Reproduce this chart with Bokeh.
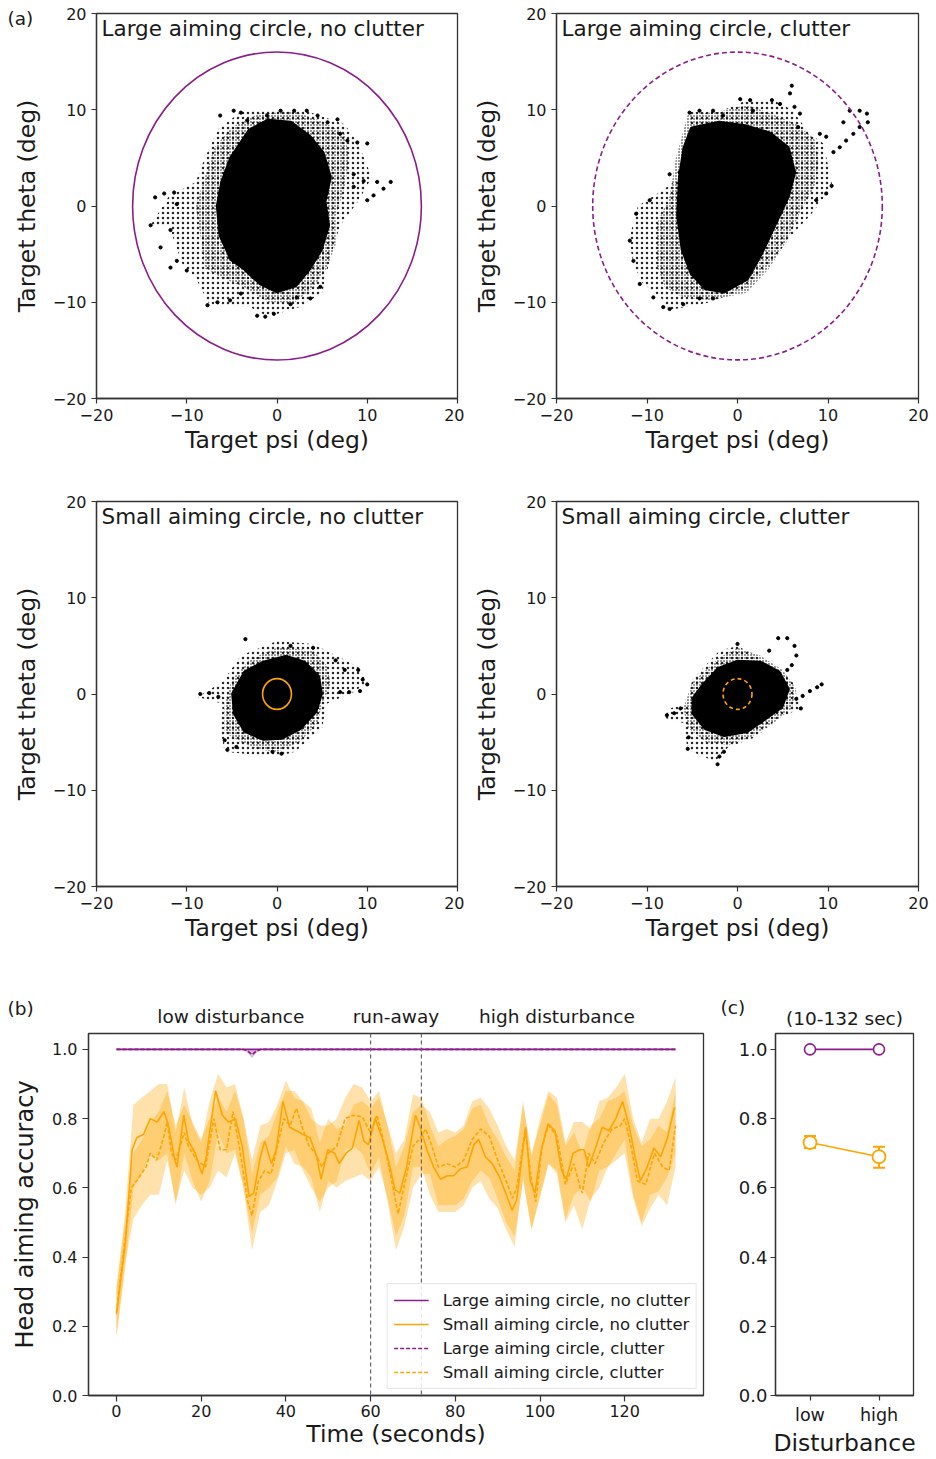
from bokeh.plotting import figure
from bokeh.layouts import column, row
from bokeh.models import (Label, Span, Legend, LegendItem, FixedTicker, PrintfTickFormatter,
                          Whisker, ColumnDataSource, TeeHead, Title, LinearAxis)
from bokeh.embed import file_html
from bokeh.resources import INLINE

# ---------------- data: panel (a) ----------------
# each cloud: solid core outline, dense-speckle outline, sparse halo outline, and trail points (psi, theta)
a1_core = [(-3, 7.8), (-1, 8.8), (1.5, 8.6), (3.5, 7.2), (5, 5.5), (5.8, 3), (5.2, 0.5), (5.6, -2), (4.8, -4.5),
           (3.5, -6.5), (2, -8.2), (0, -8.8), (-1.8, -8), (-3.5, -6.5), (-5, -5.5), (-6.2, -3), (-6.5, 0),
           (-6, 2.5), (-5, 5)]
a1_mid = [(-5, 8.2), (-2, 9.6), (2, 9.8), (5, 8.8), (7.5, 7.5), (8, 5), (7.5, 2), (6.5, -1), (6.5, -4),
          (5.5, -6.5), (4, -8.5), (2, -10), (-1, -10), (-3.5, -8.5), (-6, -7.5), (-8, -6.5), (-8.5, -3),
          (-9, 0), (-8, 3), (-7, 6)]
a1_halo = [(-4, 9.8), (0, 10), (3.5, 9.8), (7.5, 8.5), (9, 6.5), (10.5, 3), (9, 0.5), (7, -2), (6, -5),
           (5, -9), (2.5, -10.5), (-1, -11.5), (-3, -10.5), (-7.5, -10.2), (-9, -7.5), (-10.5, -6),
           (-12, -2), (-14, -2), (-12, 1), (-9, 2.5), (-8, 5), (-6.5, 8)]
a1_pts = [(-6.3, 9.4), (-4.8, 9.9), (-4.0, 9.7), (-3.3, 8.9), (-2.6, 8.0), (-1.8, 8.5), (-1.1, 9.4),
          (0.4, 9.9), (1.9, 9.9), (3.3, 9.9), (4.5, 9.4), (5.6, 8.7), (6.7, 9.0), (7.0, 7.5), (7.8, 6.8),
          (8.9, 6.6), (10.0, 6.5), (8.5, 3.3), (9.6, 2.6), (11.1, 2.5), (12.6, 2.5), (11.8, 1.8),
          (10.7, 1.1), (10.0, 0.6), (8.5, 2.0), (-14.0, -2.0), (-13.5, 0.9), (-12.5, 1.3), (-11.4, 1.4),
          (-12.9, -4.3), (-11.8, -2.5), (-11.1, 0.2), (-11.8, -6.4), (-11.1, -5.7), (-10.0, -6.7),
          (-7.7, -10.3), (-6.6, -10.0), (-5.2, -9.8), (-4.0, -9.1), (-2.2, -11.4), (-1.3, -11.5),
          (-0.35, -11.2), (1.5, -10.2), (2.2, -9.5), (3.7, -9.6), (4.8, -8.4)]

a2_core = [(-5, 8), (-2, 8.6), (1, 8.2), (3.5, 7.5), (5.5, 6), (6.2, 3.5), (5.5, 1), (4, -2), (2.5, -5),
           (1, -7.5), (-1.5, -8.8), (-3.5, -8.5), (-5, -7), (-6, -4.5), (-6.5, -1), (-6.3, 3), (-5.8, 6)]
a2_mid = [(-5.5, 9.5), (-2, 9.8), (1, 10.5), (4, 9.5), (6.5, 8.5), (8.5, 7), (9, 4.5), (8.5, 2), (7, -0.5),
          (5.5, -3.5), (3.5, -6.5), (1, -9), (-3, -9.8), (-6, -9.5), (-8, -8.5), (-9, -6), (-9, -2),
          (-7.5, 1), (-6.8, 5)]
a2_halo = [(-5.2, 9.8), (-2, 9.8), (1, 11), (4, 11), (6, 10), (8, 7.5), (9.5, 6.5), (10.5, 2), (8, -1),
           (6, -3), (4, -5.5), (1, -8.5), (-3, -10), (-7.5, -10.8), (-8.5, -9.5), (-10.5, -8),
           (-11.5, -6), (-12, -3.5), (-11, 0), (-8.5, 1.5), (-5.5, 3.5), (-5.5, 7)]
a2_pts = [(-5.3, 9.7), (-4.2, 9.9), (-2.7, 9.9), (-1.6, 9.4), (0.3, 11.1), (1.4, 11.0), (1.7, 9.9),
          (3.8, 11.0), (4.7, 10.6), (6.0, 12.5), (5.8, 11.7), (6.3, 10.3), (6.7, 8.2), (6.9, 9.6),
          (11.7, 8.7), (12.4, 9.9), (13.5, 9.9), (14.3, 9.6), (14.4, 8.7), (13.5, 8.2), (12.8, 7.5),
          (12.0, 6.8), (11.3, 6.1), (10.6, 5.6), (9.8, 7.2), (9.1, 7.5), (10.4, 2.1), (9.8, 1.3),
          (8.7, 0.6), (-11.9, -3.6), (-11.5, -5.7), (-11.2, -0.8), (-9.7, 0.6), (-7.5, 3.3), (-6.4, 3.5),
          (-10.8, -8.1), (-9.3, -9.5), (-8.2, -10.5), (-7.5, -10.7), (-6.0, -10.2), (-4.2, -9.6),
          (-2.7, -9.6)]

a3_core = [(-3.5, 2.2), (-1.5, 3.2), (1, 3.8), (3, 3.2), (4.5, 1.8), (4.8, 0), (4.2, -1.8), (2.5, -3.5),
           (0.5, -4.5), (-1.5, -4.6), (-3.5, -3.8), (-4.6, -2), (-4.8, 0)]
a3_mid = [(-5, 1.5), (-3, 3.6), (0, 4.8), (2, 4.7), (4, 4.5), (5.5, 3), (6, 1), (5, -1), (4.5, -3), (2.5, -5),
          (0, -6), (-2, -5.8), (-4, -5), (-5.8, -4), (-5.8, -1)]
a3_halo = [(-4, 4), (0, 5.5), (4, 5.2), (7, 3.8), (9, 2.8), (10, 1.2), (8.5, 0.2), (5.5, -1), (5, -3.5),
           (2, -6), (0, -6.5), (-2.5, -6.3), (-5.8, -6), (-6.3, -3.5), (-6, -1), (-8.8, -0.3), (-6, 1.3)]
a3_pts = [(-8.5, 0.0), (-7.5, 0.1), (-6.5, -0.3), (6.5, 3.5), (7.5, 2.5), (9.0, 2.5), (9.5, 1.5),
          (10.0, 1.0), (9.2, 0.3), (8.0, 0.2), (7.0, 0.2), (-3.5, 5.7), (-4.5, -5.5), (-5.5, -5.8),
          (-0.5, -6.0), (0.5, -6.2), (1.5, 5.0), (4.0, 4.8), (-5.8, -4.8)]

a4_core = [(-3.8, 0.8), (-2, 2.6), (0, 3.3), (2.5, 3.2), (4.5, 2.2), (5.5, 0.5), (4.8, -1.3), (3, -2.5),
           (1, -3.8), (-1.5, -4.2), (-3.5, -3.5), (-4.8, -2), (-4.8, -0.5)]
a4_mid = [(-5, 1.2), (-2, 3.8), (0, 4.8), (2.5, 4), (5, 2.5), (6.5, 0.5), (6, -1.5), (4, -3), (1.5, -4.5),
          (-1, -5.3), (-3.5, -5), (-5.5, -3.5), (-6, -1.5)]
a4_halo = [(-5, 1.5), (-2, 4.5), (0, 5), (2, 4), (4, 2.5), (6, 1.5), (7, -1.5), (4.5, -2.5), (2, -4.5),
           (-1, -5.5), (-2.5, -7), (-5.5, -5.8), (-6, -3), (-8, -2.5), (-7.5, -1.5), (-5.5, -1)]
a4_pts = [(3.5, 4.5), (4.5, 5.8), (5.5, 5.8), (6.3, 5.0), (6.5, 4.0), (6.0, 3.0), (5.5, 2.5), (6.5, -0.5),
          (7.2, -0.2), (8.0, 0.3), (8.8, 0.7), (9.3, 1.0), (-2.2, -7.3), (-2.0, -6.5), (-1.5, -6.0),
          (-5.5, -5.7), (-5.4, -4.5), (-7.8, -2.2), (-7.0, -2.0), (-6.3, -1.5), (0.0, 5.2), (7.0, -1.5)]

large_radius = 16
small_radius = 1.6

# ---------------- data: panel (b) ----------------
small_noclutter = [(0, 0.236), (2.1, 0.44), (3.7, 0.71), (4.8, 0.745), (6.4, 0.755), (8.0, 0.80), (9.6, 0.79),
    (11.2, 0.82), (12.2, 0.785), (13.8, 0.68), (14.3, 0.66), (15.9, 0.81), (17.0, 0.735), (18.6, 0.70),
    (20.2, 0.64), (21.2, 0.69), (23.4, 0.88), (25.0, 0.81), (26.5, 0.79), (28.1, 0.80), (29.7, 0.72),
    (31.3, 0.575), (32.4, 0.585), (34.0, 0.69), (35.0, 0.735), (36.6, 0.67), (37.7, 0.71), (39.3, 0.85),
    (40.9, 0.775), (42.5, 0.765), (44.0, 0.755), (45.7, 0.745), (47.3, 0.69), (48.3, 0.625), (49.9, 0.71),
    (51.5, 0.70), (52.6, 0.67), (54.2, 0.70), (55.7, 0.715), (57.3, 0.795), (58.4, 0.735), (59.5, 0.725),
    (61.1, 0.80), (62.7, 0.745), (64.2, 0.68), (65.8, 0.595), (66.9, 0.585), (68.5, 0.66), (70.1, 0.775),
    (70.6, 0.81), (71.7, 0.775), (73.3, 0.71), (74.9, 0.66), (76.5, 0.625), (78.1, 0.635), (79.6, 0.635),
    (81.2, 0.655), (82.8, 0.66), (84.4, 0.725), (85.5, 0.74), (87.1, 0.69), (88.7, 0.67), (90.3, 0.635),
    (91.9, 0.585), (93.4, 0.535), (94.5, 0.565), (96.6, 0.775), (97.7, 0.62), (98.8, 0.585), (100.3, 0.71),
    (101.9, 0.785), (103.5, 0.765), (105.1, 0.65), (106.2, 0.625), (107.8, 0.70), (109.4, 0.71),
    (110.4, 0.71), (111.5, 0.66), (113.1, 0.715), (114.7, 0.775), (116.3, 0.765), (117.9, 0.80),
    (119.5, 0.85), (121.1, 0.775), (122.6, 0.68), (123.7, 0.62), (125.3, 0.66), (126.9, 0.715),
    (128.5, 0.69), (130.1, 0.745), (131.7, 0.83), (132, 0.83)]

small_clutter = [(0, 0.24), (2, 0.45), (3.5, 0.60), (5, 0.625), (7, 0.66), (8, 0.70), (9.5, 0.68), (11, 0.74),
    (12, 0.79), (13, 0.70), (14, 0.68), (16, 0.76), (17, 0.72), (19, 0.68), (21, 0.66), (23, 0.80),
    (24.5, 0.71), (26, 0.71), (27.5, 0.82), (29, 0.72), (31, 0.56), (32, 0.52), (33.5, 0.62), (35, 0.65),
    (36.5, 0.64), (38, 0.72), (39.5, 0.80), (41, 0.78), (42.5, 0.83), (44, 0.77), (45.5, 0.72), (47, 0.70),
    (48.5, 0.66), (50, 0.70), (52, 0.72), (54, 0.80), (56, 0.81), (58, 0.805), (60, 0.76), (61.5, 0.81),
    (63, 0.74), (65, 0.62), (66.5, 0.525), (68, 0.61), (70, 0.72), (71.5, 0.74), (73, 0.77), (74.5, 0.72),
    (76, 0.66), (78, 0.67), (80, 0.66), (82, 0.68), (84, 0.74), (86, 0.77), (88, 0.75), (90, 0.68),
    (92, 0.62), (93.5, 0.57), (94.5, 0.60), (96.5, 0.77), (98, 0.62), (99, 0.56), (100.5, 0.72),
    (102, 0.78), (104, 0.75), (106, 0.61), (108, 0.67), (109.5, 0.60), (110, 0.585), (111.5, 0.70),
    (113, 0.67), (115, 0.73), (117, 0.77), (119, 0.78), (120, 0.80), (121.5, 0.72), (123, 0.62),
    (125, 0.61), (127, 0.70), (129, 0.66), (130.5, 0.65), (132, 0.78)]

# (t, no-clutter lower, no-clutter upper, clutter lower, clutter upper)
bands = [(0, 0.17, 0.31, 0.17, 0.31), (2, 0.36, 0.52, 0.38, 0.50), (4, 0.60, 0.84, 0.51, 0.70),
    (6, 0.64, 0.86, 0.55, 0.74), (8, 0.70, 0.88, 0.58, 0.79), (10, 0.68, 0.90, 0.58, 0.82),
    (12, 0.70, 0.90, 0.68, 0.88), (14, 0.55, 0.76, 0.56, 0.78), (16, 0.70, 0.89, 0.65, 0.84),
    (18, 0.62, 0.78, 0.60, 0.79), (20, 0.56, 0.73, 0.58, 0.74), (22, 0.62, 0.85, 0.60, 0.80),
    (24, 0.76, 0.93, 0.65, 0.86), (26, 0.70, 0.89, 0.63, 0.82), (28, 0.71, 0.90, 0.70, 0.88),
    (30, 0.60, 0.80, 0.60, 0.80), (32, 0.47, 0.68, 0.42, 0.64), (34, 0.58, 0.78, 0.53, 0.73),
    (36, 0.60, 0.79, 0.55, 0.75), (38, 0.63, 0.84, 0.62, 0.82), (40, 0.72, 0.91, 0.70, 0.88),
    (42, 0.67, 0.86, 0.71, 0.88), (44, 0.66, 0.85, 0.65, 0.85), (46, 0.63, 0.83, 0.60, 0.80),
    (48, 0.53, 0.73, 0.56, 0.78), (50, 0.62, 0.80, 0.60, 0.78), (52, 0.60, 0.77, 0.62, 0.80),
    (54, 0.62, 0.78, 0.71, 0.86), (56, 0.63, 0.84, 0.72, 0.90), (58, 0.64, 0.85, 0.70, 0.89),
    (60, 0.62, 0.83, 0.64, 0.85), (62, 0.66, 0.86, 0.69, 0.88), (64, 0.57, 0.78, 0.56, 0.78),
    (66, 0.46, 0.70, 0.42, 0.66), (68, 0.52, 0.74, 0.49, 0.72), (70, 0.66, 0.87, 0.60, 0.82),
    (72, 0.66, 0.86, 0.64, 0.84), (74, 0.58, 0.78, 0.64, 0.82), (76, 0.53, 0.72, 0.55, 0.76),
    (78, 0.53, 0.74, 0.55, 0.77), (80, 0.53, 0.75, 0.55, 0.76), (82, 0.55, 0.77, 0.57, 0.78),
    (84, 0.60, 0.83, 0.62, 0.85), (86, 0.62, 0.84, 0.65, 0.86), (88, 0.57, 0.78, 0.63, 0.83),
    (90, 0.54, 0.74, 0.57, 0.78), (92, 0.48, 0.69, 0.50, 0.72), (94, 0.43, 0.65, 0.46, 0.68),
    (96, 0.63, 0.85, 0.62, 0.84), (98, 0.48, 0.69, 0.48, 0.70), (100, 0.58, 0.80, 0.57, 0.78),
    (102, 0.67, 0.88, 0.67, 0.87), (104, 0.65, 0.86, 0.64, 0.84), (106, 0.51, 0.73, 0.50, 0.72),
    (108, 0.58, 0.79, 0.55, 0.76), (110, 0.60, 0.79, 0.48, 0.70), (112, 0.56, 0.77, 0.57, 0.78),
    (114, 0.65, 0.85, 0.60, 0.80), (116, 0.66, 0.86, 0.66, 0.85), (118, 0.70, 0.89, 0.68, 0.86),
    (120, 0.74, 0.93, 0.70, 0.88), (122, 0.58, 0.80, 0.57, 0.78), (124, 0.50, 0.73, 0.49, 0.72),
    (126, 0.58, 0.80, 0.54, 0.74), (128, 0.59, 0.80, 0.58, 0.78), (130, 0.63, 0.85, 0.55, 0.76),
    (132, 0.70, 0.92, 0.66, 0.88)]

large_noclutter = [(0, 1.0), (132, 1.0)]
large_clutter = [(0, 1.0), (30, 1.0), (31, 0.995), (32, 0.985), (33, 0.995), (34, 1.0), (132, 1.0)]
large_clutter_lo = [(0, 1.0), (30, 1.0), (31, 0.99), (32, 0.975), (33, 0.99), (34, 1.0), (132, 1.0)]
phase_lines = [60, 72]
phase_names = ["low disturbance", "run-away", "high disturbance"]
phase_centers = [27, 66, 104]

# ---------------- data: panel (c) ----------------
disturbance = ["low", "high"]
large_mean = [1.0, 1.0]
small_mean = [0.731, 0.690]
small_err_lo = [0.715, 0.658]
small_err_hi = [0.750, 0.719]
window_label = "(10-132 sec)"

PURPLE = "#8b1c8b"
ORANGE = "#ffa500"
FONT = "DejaVu Sans"
INK = "#1a1a1a"


def style_axes(p, tick_size, label_size, tick_out=5, label_standoff=5):
    p.outline_line_color = "#333333"
    p.outline_line_width = 1.3
    p.xgrid.visible = False
    p.ygrid.visible = False
    for ax in (p.below[0], p.left[0]):
        ax.major_tick_in = 0
        ax.major_tick_out = tick_out
        ax.minor_tick_line_color = None
        ax.axis_line_color = "#333333"
        ax.axis_line_width = 1.3
        ax.major_tick_line_color = "#333333"
        ax.major_tick_line_width = 1.2
        ax.major_label_standoff = label_standoff
        ax.major_label_text_font = FONT
        ax.major_label_text_font_size = tick_size
        ax.major_label_text_color = INK
        ax.axis_label_text_font = FONT
        ax.axis_label_text_font_size = label_size
        ax.axis_label_text_font_style = "normal"
        ax.axis_label_text_color = INK
    return p.below[0], p.left[0]


def panel_tag(p, text, offset, standoff):
    p.add_layout(Title(text=text, align="left", offset=offset, standoff=standoff, text_font=FONT,
                       text_font_size="18.5px", text_font_style="normal", text_color=INK,
                       vertical_align="bottom"), "above")


def top_labels(ticks, labels, standoff):
    return LinearAxis(ticker=FixedTicker(ticks=ticks), major_label_overrides=dict(zip(ticks, labels)),
                      axis_line_color=None, major_tick_line_color=None, minor_tick_line_color=None,
                      major_tick_out=0, major_tick_in=0, major_label_standoff=standoff,
                      major_label_text_font=FONT, major_label_text_font_size="18.5px",
                      major_label_text_color=INK)


def scatter_panel(title, width, height, left, right, top, bottom, core, mid, halo, pts, radius, color,
                  dash, tag=None):
    p = figure(width=width, height=height, x_range=(-20, 20), y_range=(-20, 20),
               output_backend="svg", toolbar_location=None,
               min_border_left=left, min_border_right=right, min_border_top=top, min_border_bottom=bottom)
    xa, ya = style_axes(p, "16px", "23.5px")
    ticks = [-20, -10, 0, 10, 20]
    over = {-20: "\u221220", -10: "\u221210"}
    xa.ticker = FixedTicker(ticks=ticks)
    ya.ticker = FixedTicker(ticks=ticks)
    xa.major_label_overrides = over
    ya.major_label_overrides = over
    xa.axis_label = "Target psi (deg)"
    ya.axis_label = "Target theta (deg)"
    xa.axis_label_standoff = 2
    ya.axis_label_standoff = 9
    if tag:
        panel_tag(p, tag, -89, -30)
    p.patch([v[0] for v in halo], [v[1] for v in halo], fill_alpha=0, line_alpha=0, hatch_pattern="dot",
            hatch_color="black", hatch_scale=5, hatch_weight=2.2, hatch_alpha=0.85)
    p.patch([v[0] for v in mid], [v[1] for v in mid], fill_alpha=0, line_alpha=0, hatch_pattern="dot",
            hatch_color="black", hatch_scale=3.0, hatch_weight=2.4, hatch_alpha=1)
    p.patch([v[0] for v in core], [v[1] for v in core], fill_color="black", line_color="black",
            line_width=5, line_join="round")
    p.scatter([v[0] for v in pts], [v[1] for v in pts], size=3.2, color="black")
    p.ellipse(x=0, y=0, width=2 * radius, height=2 * radius, fill_alpha=0, line_color=color,
              line_width=1.6, line_dash=dash)
    p.add_layout(Label(x=-20, y=20, x_offset=5, y_offset=-15, text=title, text_font=FONT,
                       text_font_size="21.5px", text_baseline="middle", text_color=INK))
    return p


a1 = scatter_panel("Large aiming circle, no clutter", 464, 470, 96, 7, 13, 72, a1_core, a1_mid, a1_halo,
                   a1_pts, large_radius, PURPLE, "solid", "(a)")
a2 = scatter_panel("Large aiming circle, clutter", 472, 470, 92, 18, 13, 72, a2_core, a2_mid, a2_halo,
                   a2_pts, large_radius, PURPLE, "5 3")
a3 = scatter_panel("Small aiming circle, no clutter", 464, 500, 96, 7, 31, 84, a3_core, a3_mid, a3_halo,
                   a3_pts, small_radius, ORANGE, "solid")
a4 = scatter_panel("Small aiming circle, clutter", 472, 500, 92, 18, 31, 84, a4_core, a4_mid, a4_halo,
                   a4_pts, small_radius, ORANGE, "4 3")

# ---------------- panel (b) ----------------
b = figure(width=712, height=489, x_range=(-6.6, 138.6), y_range=(0, 1.046),
           output_backend="svg", toolbar_location=None,
           min_border_left=88, min_border_right=9, min_border_top=63, min_border_bottom=61)
bx, by = style_axes(b, "16px", "24px", tick_out=6)
bx.ticker = FixedTicker(ticks=[0, 20, 40, 60, 80, 100, 120])
by.ticker = FixedTicker(ticks=[0, 0.2, 0.4, 0.6, 0.8, 1.0])
by.formatter = PrintfTickFormatter(format="%.1f")
bx.axis_label = "Time (seconds)"
by.axis_label = "Head aiming accuracy"
bx.major_label_standoff = 3
bx.axis_label_standoff = 0
bx.axis_label_text_font_size = "23.5px"
by.axis_label_standoff = 10
b.add_layout(top_labels(phase_centers, phase_names, 7), "above")
panel_tag(b, "(b)", -81, -32)

bt = [r[0] for r in bands]
b.varea(x=bt, y1=[r[1] for r in bands], y2=[r[2] for r in bands], fill_color=ORANGE, fill_alpha=0.33)
b.varea(x=bt, y1=[r[3] for r in bands], y2=[r[4] for r in bands], fill_color=ORANGE, fill_alpha=0.33)
b.varea(x=[r[0] for r in large_clutter_lo], y1=[r[1] for r in large_clutter_lo],
        y2=[1.0] * len(large_clutter_lo), fill_color=PURPLE, fill_alpha=0.3)

r_lnc = b.line([r[0] for r in large_noclutter], [r[1] for r in large_noclutter], line_color=PURPLE,
               line_width=1.7)
r_lc = b.line([r[0] for r in large_clutter], [r[1] for r in large_clutter], line_color=PURPLE,
              line_width=1.7, line_dash="4 2")
r_snc = b.line([r[0] for r in small_noclutter], [r[1] for r in small_noclutter], line_color=ORANGE,
               line_width=1.6)
r_sc = b.line([r[0] for r in small_clutter], [r[1] for r in small_clutter], line_color=ORANGE,
              line_width=1.6, line_dash="4 2")

for t in phase_lines:
    b.add_layout(Span(location=t, dimension="height", line_color="#666666", line_width=1.2,
                      line_dash="4 3"))

legend = Legend(items=[
    LegendItem(label="Large aiming circle, no clutter", renderers=[r_lnc]),
    LegendItem(label="Small aiming circle, no clutter", renderers=[r_snc]),
    LegendItem(label="Large aiming circle, clutter", renderers=[r_lc]),
    LegendItem(label="Small aiming circle, clutter", renderers=[r_sc]),
], location="bottom_right")
legend.label_text_font = FONT
legend.label_text_font_size = "16.5px"
legend.label_text_color = INK
legend.glyph_width = 35
legend.glyph_height = 20
legend.label_standoff = 14
legend.spacing = 4
legend.padding = 6
legend.margin = 6
legend.border_line_color = "#cccccc"
legend.background_fill_alpha = 0.85
b.add_layout(legend)

# ---------------- panel (c) ----------------
c = figure(width=224, height=489, x_range=(-0.5, 1.5), y_range=(0, 1.046),
           output_backend="svg", toolbar_location=None,
           min_border_left=63, min_border_right=23, min_border_top=63, min_border_bottom=61)
cxa, cya = style_axes(c, "18px", "23.5px", tick_out=5, label_standoff=3)
cxa.ticker = FixedTicker(ticks=[0, 1])
cxa.major_label_overrides = {0: disturbance[0], 1: disturbance[1]}
cxa.major_label_text_font_size = "17.5px"
cxa.major_label_standoff = 4
cya.ticker = FixedTicker(ticks=[0, 0.2, 0.4, 0.6, 0.8, 1.0])
cya.formatter = PrintfTickFormatter(format="%.1f")
cxa.axis_label = "Disturbance"
cxa.axis_label_standoff = 1
c.add_layout(top_labels([0.5], [window_label], 5), "above")
panel_tag(c, "(c)", -55, -27)

cx = [0, 1]
c.line(cx, large_mean, line_color=PURPLE, line_width=1.6)
c.scatter(cx, large_mean, size=11, fill_color="white", line_color=PURPLE, line_width=1.6)
src = ColumnDataSource(dict(x=cx, lo=small_err_lo, hi=small_err_hi))
c.add_layout(Whisker(source=src, base="x", lower="lo", upper="hi", dimension="height",
                     line_color=ORANGE, line_width=2,
                     upper_head=TeeHead(size=12, line_color=ORANGE, line_width=2),
                     lower_head=TeeHead(size=12, line_color=ORANGE, line_width=2)))
c.line(cx, small_mean, line_color=ORANGE, line_width=1.6)
c.scatter(cx, small_mean, size=13, fill_color="white", line_color=ORANGE, line_width=1.8)

layout = column(row(a1, a2), row(a3, a4), row(b, c))
open("out.html", "w").write(file_html(layout, INLINE))
